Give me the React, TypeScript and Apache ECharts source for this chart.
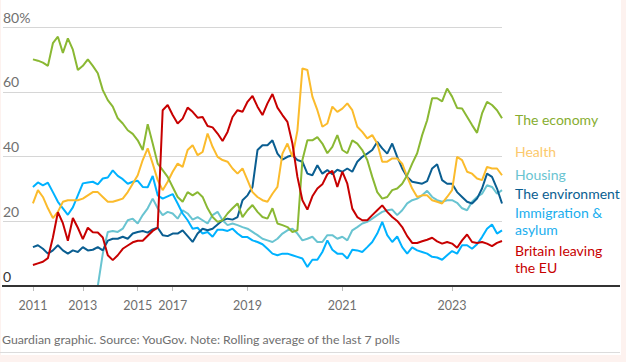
import React, { useEffect, useRef } from "react";
import * as echarts from "echarts";

// Empty category slots before the first poll (the plot area starts left of the data)
const leadPad = 6;

// Tick labels and the poll index at which each one sits
const tickLabels = [
  { label: "2011", index: 0 },
  { label: "2013", index: 10 },
  { label: "2015", index: 21 },
  { label: "2017", index: 28 },
  { label: "2019", index: 43 },
  { label: "2021", index: 62 },
  { label: "2023", index: 84 },
];

const yTicks = [0, 20, 40, 60, 80];

const economy = [
  70, 69.6, 69, 68, 75, 77, 72, 76.5, 73, 66.7, 68, 70, 68, 65.7, 60.5, 57.4, 55.4, 51.8, 50.2, 48.1, 47, 45, 42, 50, 44,
  37.8, 35.8, 33.7, 30.6, 27.5, 26, 29, 28, 29, 27.5, 24, 21.3, 19.8, 20.3, 22.4, 24, 25.5, 21.3, 23.4, 25, 22.9, 21.3, 20.8, 24,
  19.3, 18.8, 18.2, 16.7, 17.2, 38.9, 45, 45, 46, 44, 41, 43, 46.6, 42, 41, 45, 44, 42, 38.9, 33.7, 29, 27, 27.5, 29.6,
  30.1, 31.6, 34.2, 37.8, 41, 46.6, 51.2, 58, 58, 57, 61, 58.5, 55, 54.8, 52.3, 49.7, 47.3, 53.3, 56.9, 55.9, 54.3, 51.8,
];

const health = [
  25.5, 29.6, 27.5, 24, 21, 22.9, 26, 26.5, 26.5, 26.5, 27, 28, 29, 29, 27.5, 26, 26, 26.5, 27, 29, 31.6, 34.2, 38.9, 42.5, 37.8,
  32.7, 29.6, 32.2, 35.3, 37.8, 36.8, 42, 43.5, 40.4, 41.4, 47.1, 43, 39.9, 38.9, 38.4, 36.3, 34.7, 36.3, 32.7, 29, 27.5, 26.5, 26, 28.5,
  30.6, 40.9, 44, 39.9, 48, 67.2, 66.7, 58.5, 54.3, 49.2, 50.2, 55.4, 53.8, 54.8, 56.4, 54.3, 49.2, 47.6, 45.6, 46.6, 44, 38.4, 38.4, 39.4,
  39.4, 37.8, 33.7, 30.1, 27.5, 28, 28, 26.5, 26, 25.5, 27.5, 29.6, 39.9, 38.9, 35.3, 34.7, 33.2, 32.7, 36.8, 36.3, 36.3, 34.2,
];

const housing = [
  0, 0, 0, 0, 0, 0, 0, 0, 0, 0, 0, 0, 0, 0, 10, 16.7, 17, 16.7, 17.7, 20.3, 20.8, 19.3, 21.9, 24, 27,
  24, 21.9, 22.9, 22.4, 20.8, 23.4, 22.4, 20.5, 21.3, 20.3, 19.3, 21.9, 22.9, 20.3, 18.8, 19.3, 18.8, 18.2, 17.7, 16.7, 15.7, 14.6, 14.1, 13.6,
  14.6, 16.2, 17.2, 17.7, 16.2, 14.1, 14.6, 15.2, 13.6, 13.6, 15.7, 15.7, 14.6, 15.2, 14.1, 17.2, 18.2, 19.3, 19.8, 20.8, 21.9, 22.9, 23.4, 23.6,
  21.9, 23.4, 25.5, 26.5, 27, 28, 29.4, 27.5, 26.5, 26, 26.5, 26.5, 25.7, 24, 23.4, 26, 27.5, 28.5, 31.1, 30.6, 28.5, 29.6,
];

const environment = [
  12, 12.6, 11.5, 10, 11, 12.6, 11, 10, 11, 10.5, 12, 11, 11.2, 12, 11, 14, 14.6, 14.6, 15.2, 14.6, 16.2, 16.7, 17, 16.5, 17.5,
  18, 15.7, 15.4, 16.2, 16.2, 17.2, 15.4, 13.6, 16.2, 17.7, 17.2, 17.7, 19, 20.3, 20.8, 20.5, 21.3, 26.5, 28, 30.6, 42, 43.5, 43.5, 45,
  40.9, 39, 39.9, 40.4, 38.9, 38.4, 34.7, 34.2, 37.3, 34.7, 35.8, 34.5, 35.9, 35.3, 36.3, 35.3, 38.4, 39.9, 40.9, 42, 44.5, 42.5, 40.9, 44,
  39.9, 36.3, 33.7, 32.2, 31.9, 31.6, 32.4, 36.3, 37.6, 32.7, 31.6, 31.6, 29, 27.5, 26, 25.5, 27, 30.1, 34.7, 33.7, 30.1, 25.5,
];

const immigration = [
  30.6, 32, 31.1, 31.9, 29, 26, 24, 22, 24.3, 28, 31.7, 32, 32.2, 31.4, 33.2, 33.5, 35.7, 34, 33, 31.6, 32.2, 32.5, 30.6, 30.5, 34,
  28, 27, 27.7, 28.4, 25.5, 22.4, 20.3, 17.7, 18, 16.2, 16.7, 15.2, 17.4, 17.4, 17, 17.7, 16.2, 15.1, 15.1, 14.1, 13.6, 12.9, 11.5, 10,
  9.5, 10, 10, 9.5, 9, 8.5, 5.9, 8.1, 8.1, 10.5, 14.1, 11.2, 10, 10, 8.5, 11.2, 11, 10.5, 12, 13.6, 16.2, 19.8, 15.7, 13.6,
  15.3, 12, 10, 11.9, 11, 10.5, 10, 9, 8.8, 8.1, 9.5, 10.8, 10, 12.6, 12.6, 11.5, 12.9, 15.1, 17.7, 19, 16.2, 17.2,
];

const brexit = [
  6.5, 7, 7.5, 8.6, 15, 22.8, 19.4, 14, 21, 18, 14.5, 18, 16.6, 16.5, 15, 9.5, 8, 9.5, 11.5, 12.5, 13.5, 14, 14, 15.5, 17,
  18, 54.3, 55.9, 52.8, 50.2, 51.7, 55.1, 53.8, 52, 52.2, 49.4, 49, 47.1, 44.8, 47.6, 52.2, 54.3, 53.8, 56.9, 58.7, 55.4, 52.8, 56.4, 59.3,
  55.1, 52.8, 50.7, 44, 33.7, 26.5, 23.6, 27.7, 30.1, 31.4, 34.5, 35.6, 30.6, 35.3, 31.6, 23.9, 21.3, 20.3, 20.3, 21.9, 23.4, 24.9, 22.9, 21.3,
  20.1, 18.2, 15.4, 13.3, 13.3, 13.8, 14.3, 14.9, 13.8, 13.1, 13.6, 13.1, 11.8, 14.1, 15.9, 13.6, 13.3, 13.6, 13.1, 12.3, 13.3, 13.9,
];

const seriesDefs = [
  { name: "Housing", data: housing, color: "#69c4d1", text: "#69c4d1", label: "Housing", labelY: 174 },
  { name: "Immigration & asylum", data: immigration, color: "#00b2ff", text: "#1aaeee", label: "Immigration &\nasylum", labelY: 220.5 },
  { name: "The environment", data: environment, color: "#0a5e91", text: "#0a5e91", label: "The environment", labelY: 193 },
  { name: "Health", data: health, color: "#fbbb2c", text: "#fcc96c", label: "Health", labelY: 151 },
  { name: "The economy", data: economy, color: "#8ab833", text: "#86ad30", label: "The economy", labelY: 119 },
  { name: "Britain leaving the EU", data: brexit, color: "#c70000", text: "#c70000", label: "Britain leaving\nthe EU", labelY: 259 },
];

const sourceNote = "Guardian graphic. Source: YouGov. Note: Rolling average of the last 7 polls";

const FONT = "Lato, 'Noto Sans', sans-serif";

export default function App() {
  const ref = useRef<HTMLDivElement>(null);

  useEffect(() => {
    if (!ref.current) return;
    const chart = echarts.init(ref.current, null, { renderer: "svg" });
    const total = leadPad + economy.length;
    const categories = Array.from({ length: total }, (_, k) => {
      const t = tickLabels.find((tl) => tl.index + leadPad === k);
      return t ? t.label : "";
    });
    const showAt = (_idx: number, val: string) => val !== "";
    const pad = Array(leadPad).fill(null);

    chart.setOption({
      animation: false,
      backgroundColor: "transparent",
      grid: { left: 2, right: 124, top: 27, bottom: 76, containLabel: false },
      xAxis: {
        type: "category",
        data: categories,
        boundaryGap: false,
        axisLine: { show: false },
        axisTick: { show: true, interval: showAt, length: 5, lineStyle: { color: "#bdbdbd", width: 1 } },
        axisLabel: { interval: showAt, margin: 13, color: "#6f6f6f", fontSize: 12.5, fontFamily: FONT },
        splitLine: { show: false },
      },
      yAxis: {
        type: "value",
        min: 0,
        max: 80,
        interval: 20,
        axisLine: { show: false },
        axisTick: { show: false },
        splitLine: { lineStyle: { color: "#d6d6d6", width: 1 } },
        axisLabel: {
          inside: true,
          margin: 0,
          align: "left",
          verticalAlign: "bottom",
          padding: [0, 0, 3, 0],
          fontSize: 14,
          fontFamily: FONT,
          color: (v: any) => (Number(v) === 0 ? "#333333" : "#707070"),
          formatter: (v: number) => (v === yTicks[yTicks.length - 1] ? `${v}%` : String(v)),
        },
      },
      series: seriesDefs.map((s) => ({
        name: s.name,
        type: "line",
        data: [...pad, ...s.data],
        showSymbol: false,
        symbol: "none",
        connectNulls: false,
        lineStyle: { color: s.color, width: 2 },
        itemStyle: { color: s.color },
      })),
    });

    const y0 = chart.convertToPixel({ gridIndex: 0 } as any, [0, 0])[1];
    chart.setOption({
      graphic: [
        {
          type: "line",
          shape: { x1: 2, y1: y0, x2: 620, y2: y0 },
          style: { stroke: "#333333", lineWidth: 2 },
          z: 50,
        },
        {
          type: "line",
          shape: { x1: 0, y1: 352.5, x2: 620, y2: 352.5 },
          style: { stroke: "#dcdcdc", lineWidth: 1 },
        },
        {
          type: "text",
          x: 2,
          y: 339,
          style: {
            text: sourceNote,
            fill: "#6f6f6f",
            font: `12.3px ${FONT}`,
            verticalAlign: "middle",
            align: "left",
          },
        },
        ...seriesDefs.map((s) => ({
          type: "text",
          x: 515,
          y: s.labelY,
          style: {
            text: s.label,
            fill: s.text,
            font: `14px ${FONT}`,
            lineHeight: 17,
            verticalAlign: "middle",
            align: "left",
          },
        })),
      ],
    });

    return () => chart.dispose();
  }, []);

  return (
    <div style={{ position: "fixed", left: 0, top: 0, width: 626, height: 362, background: "#fdf2ef" }}>
      <div style={{ position: "absolute", left: 1, top: 0, width: 620, height: 355, background: "#ffffff" }} />
      <div ref={ref} style={{ position: "absolute", left: 0, top: 0, width: 626, height: 362 }} />
    </div>
  );
}
